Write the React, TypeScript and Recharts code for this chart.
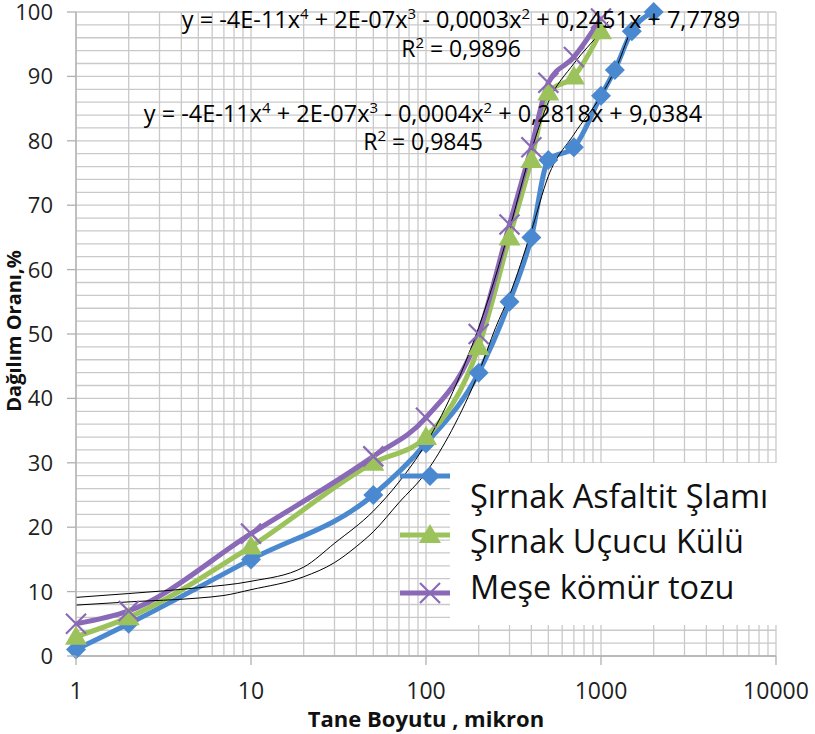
import React from "react";
import { CartesianGrid, Line, LineChart, XAxis, YAxis } from "recharts";

const W = 815;
const H = 734;

// Tane boyutu (mikron) / Dağılım oranı (%)
const asfaltitSizes = [1, 2, 10, 50, 100, 200, 300, 400, 500, 700, 1000, 1200, 1500, 2000];
const asfaltitValues = [1, 5, 15, 25, 33, 44, 55, 65, 77, 79, 87, 91, 97, 100];

const kulSizes = [1, 2, 10, 50, 100, 200, 300, 400, 500, 700, 1000];
const kulValues = [3, 6, 17, 30, 34, 48, 65, 77, 87.5, 90, 97];

const meseSizes = [1, 2, 10, 50, 100, 200, 300, 400, 500, 700, 1000];
const meseValues = [5, 7, 19, 31, 37, 50, 67, 79, 89, 93, 99];

// polynomial trend lines
const trend1Sizes = [1, 2, 5, 7, 10, 20, 30, 40, 50, 70, 100, 140, 200, 250, 300, 400, 500, 700, 1000, 1250, 1500, 1600];
const trend1Values = [7.9, 8.4, 9.0, 9.4, 10.3, 12.3, 14.5, 17, 19.3, 23.8, 28.5, 35, 44, 51, 56, 66, 74.5, 81, 87, 92, 97.5, 99];
const trend2Sizes = [1, 2, 5, 10, 20, 30, 50, 70, 100, 150, 200, 250, 300, 400, 500, 700, 1000, 1100];
const trend2Values = [9.1, 9.7, 10.6, 11.6, 13.8, 17.5, 22.5, 27, 33, 42.4, 51, 59, 66.3, 78.5, 86, 92, 97, 98.5];

const seriesNames = ["Şırnak Asfaltit Şlamı", "Şırnak Uçucu Külü", "Meşe kömür tozu"];
const equations = [
  { base: ["y = -4E-11x", "4", " + 2E-07x", "3", " - 0,0003x", "2", " + 0,2451x + 7,7789"], r2: "0,9896" },
  { base: ["y = -4E-11x", "4", " + 2E-07x", "3", " - 0,0004x", "2", " + 0,2818x + 9,0384"], r2: "0,9845" },
];

const majorXTicks = [1, 10, 100, 1000, 10000];
const minorSteps = [2, 3, 4, 5, 6, 7, 8, 9];
const xGridTicks = majorXTicks.flatMap((d) => (d === 10000 ? [d] : [d, ...minorSteps.map((m) => m * d)]));
const majorYTicks = [0, 10, 20, 30, 40, 50, 60, 70, 80, 90, 100];
const yGridTicks = Array.from({ length: 51 }, (_, i) => i * 2);

const toPoints = (xs: number[], ys: number[]) => xs.map((x, i) => ({ x, y: ys[i] }));

const BLUE = "#4a89cf";
const GREEN = "#9cc35b";
const PURPLE = "#8a69b6";
const GRID = "#c9c9c9";
const AXIS = "#b0b0b0";
const FONT = "'Open Sans', sans-serif";
const LW = 5;

const XTick = (props: any) => {
  const { x, y, payload } = props;
  if (!majorXTicks.includes(payload.value)) return <g />;
  return (
    <g>
      <line x1={x} x2={x} y1={y - 9} y2={y} stroke={AXIS} strokeWidth={1.3} />
      <text x={x} y={y + 34} textAnchor="middle" fontSize={23} fontFamily={FONT} fill="#1f1f1f">
        {payload.value}
      </text>
    </g>
  );
};

const YTick = (props: any) => {
  const { x, y, payload } = props;
  if (!majorYTicks.includes(payload.value)) return <g />;
  return (
    <g>
      <line x1={x} x2={x + 9} y1={y} y2={y} stroke={AXIS} strokeWidth={1.3} />
      <text x={x - 14} y={y + 8} textAnchor="end" fontSize={22} fontFamily={FONT} fill="#1f1f1f">
        {payload.value}
      </text>
    </g>
  );
};

const Diamond = ({ cx, cy }: { cx: number; cy: number }) => (
  <polygon points={`${cx},${cy - 10} ${cx + 10},${cy} ${cx},${cy + 10} ${cx - 10},${cy}`} fill={BLUE} />
);
const Triangle = ({ cx, cy }: { cx: number; cy: number }) => (
  <polygon points={`${cx},${cy - 11} ${cx + 11},${cy + 8} ${cx - 11},${cy + 8}`} fill={GREEN} />
);
const Cross = ({ cx, cy }: { cx: number; cy: number }) => (
  <g stroke={PURPLE} strokeWidth={2.2}>
    <line x1={cx - 10} y1={cy - 10} x2={cx + 10} y2={cy + 10} />
    <line x1={cx - 10} y1={cy + 10} x2={cx + 10} y2={cy - 10} />
  </g>
);

const Equation = ({ parts, x, y }: { parts: string[]; x: number; y: number }) => (
  <text x={x} y={y} textAnchor="middle" fontSize={23.5} fontFamily={FONT} fill="#000">
    {parts.map((p, i) =>
      i % 2 === 1 ? (
        <tspan key={i} fontSize={15} dy={-9}>
          {p}
        </tspan>
      ) : (
        <tspan key={i} dy={i === 0 ? 0 : 9}>
          {p}
        </tspan>
      )
    )}
  </text>
);

const R2 = ({ value, x, y }: { value: string; x: number; y: number }) => (
  <text x={x} y={y} textAnchor="middle" fontSize={23} fontFamily={FONT} fill="#000">
    R<tspan fontSize={15} dy={-9}>2</tspan>
    <tspan dy={9}>{` = ${value}`}</tspan>
  </text>
);

export default function App() {
  return (
    <div style={{ position: "absolute", left: 0, top: 0, width: W, height: H, background: "#fff" }}>
      <LineChart width={W} height={H} margin={{ top: 12, right: 39, bottom: 0, left: 0 }}>
        <CartesianGrid stroke={GRID} strokeWidth={1.3} />
        <XAxis
          dataKey="x"
          type="number"
          scale="log"
          domain={[1, 10000]}
          ticks={xGridTicks}
          interval={0}
          height={78}
          tickSize={9}
          tickMargin={0}
          tickLine={false}
          tick={<XTick />}
          stroke={AXIS}
          strokeWidth={1.3}
        />
        <YAxis
          type="number"
          domain={[0, 100]}
          ticks={yGridTicks}
          interval={0}
          width={76}
          tickSize={9}
          tickMargin={0}
          tickLine={false}
          tick={<YTick />}
          stroke={AXIS}
          strokeWidth={1.3}
        />
        <Line
          data={toPoints(asfaltitSizes, asfaltitValues)}
          dataKey="y"
          type="monotone"
          stroke={BLUE}
          strokeWidth={LW}
          isAnimationActive={false}
          dot={(p: any) => <Diamond key={`a${p.index}`} cx={p.cx} cy={p.cy} />}
          activeDot={false}
        />
        <Line
          data={toPoints(kulSizes, kulValues)}
          dataKey="y"
          type="monotone"
          stroke={GREEN}
          strokeWidth={LW}
          isAnimationActive={false}
          dot={(p: any) => <Triangle key={`k${p.index}`} cx={p.cx} cy={p.cy} />}
          activeDot={false}
        />
        <Line
          data={toPoints(meseSizes, meseValues)}
          dataKey="y"
          type="monotone"
          stroke={PURPLE}
          strokeWidth={LW}
          isAnimationActive={false}
          dot={(p: any) => <Cross key={`m${p.index}`} cx={p.cx} cy={p.cy} />}
          activeDot={false}
        />
        <Line
          data={toPoints(trend1Sizes, trend1Values)}
          dataKey="y"
          type="monotone"
          stroke="#000"
          strokeWidth={1}
          dot={false}
          activeDot={false}
          isAnimationActive={false}
        />
        <Line
          data={toPoints(trend2Sizes, trend2Values)}
          dataKey="y"
          type="monotone"
          stroke="#000"
          strokeWidth={1}
          dot={false}
          activeDot={false}
          isAnimationActive={false}
        />
      </LineChart>

      <svg width={W} height={H} style={{ position: "absolute", left: 0, top: 0, pointerEvents: "none" }}>
        <Equation parts={equations[0].base} x={461} y={28} />
        <R2 value={equations[0].r2} x={461} y={57} />
        <Equation parts={equations[1].base} x={423} y={122} />
        <R2 value={equations[1].r2} x={423} y={150} />

        <rect x={450} y={463} width={365} height={162} fill="#fff" />
        <line x1={400} x2={450} y1={476} y2={476} stroke={BLUE} strokeWidth={LW} />
        <Diamond cx={430} cy={476} />
        <line x1={400} x2={450} y1={535} y2={535} stroke={GREEN} strokeWidth={LW} />
        <Triangle cx={430} cy={535} />
        <line x1={400} x2={450} y1={593} y2={593} stroke={PURPLE} strokeWidth={LW} />
        <Cross cx={430} cy={593} />
        {seriesNames.map((name, i) => (
          <text key={name} x={470} y={[508, 553, 599][i]} fontSize={32.5} fontFamily={FONT} fill="#111">
            {name}
          </text>
        ))}

        <text
          x={0}
          y={0}
          transform="translate(21,331) rotate(-90)"
          textAnchor="middle"
          fontSize={20}
          fontWeight="bold"
          fontFamily={FONT}
          fill="#111"
        >
          Dağılım Oranı,%
        </text>
        <text x={426} y={727} textAnchor="middle" fontSize={22} fontWeight="bold" fontFamily={FONT} fill="#111">
          Tane Boyutu , mikron
        </text>
      </svg>
    </div>
  );
}
